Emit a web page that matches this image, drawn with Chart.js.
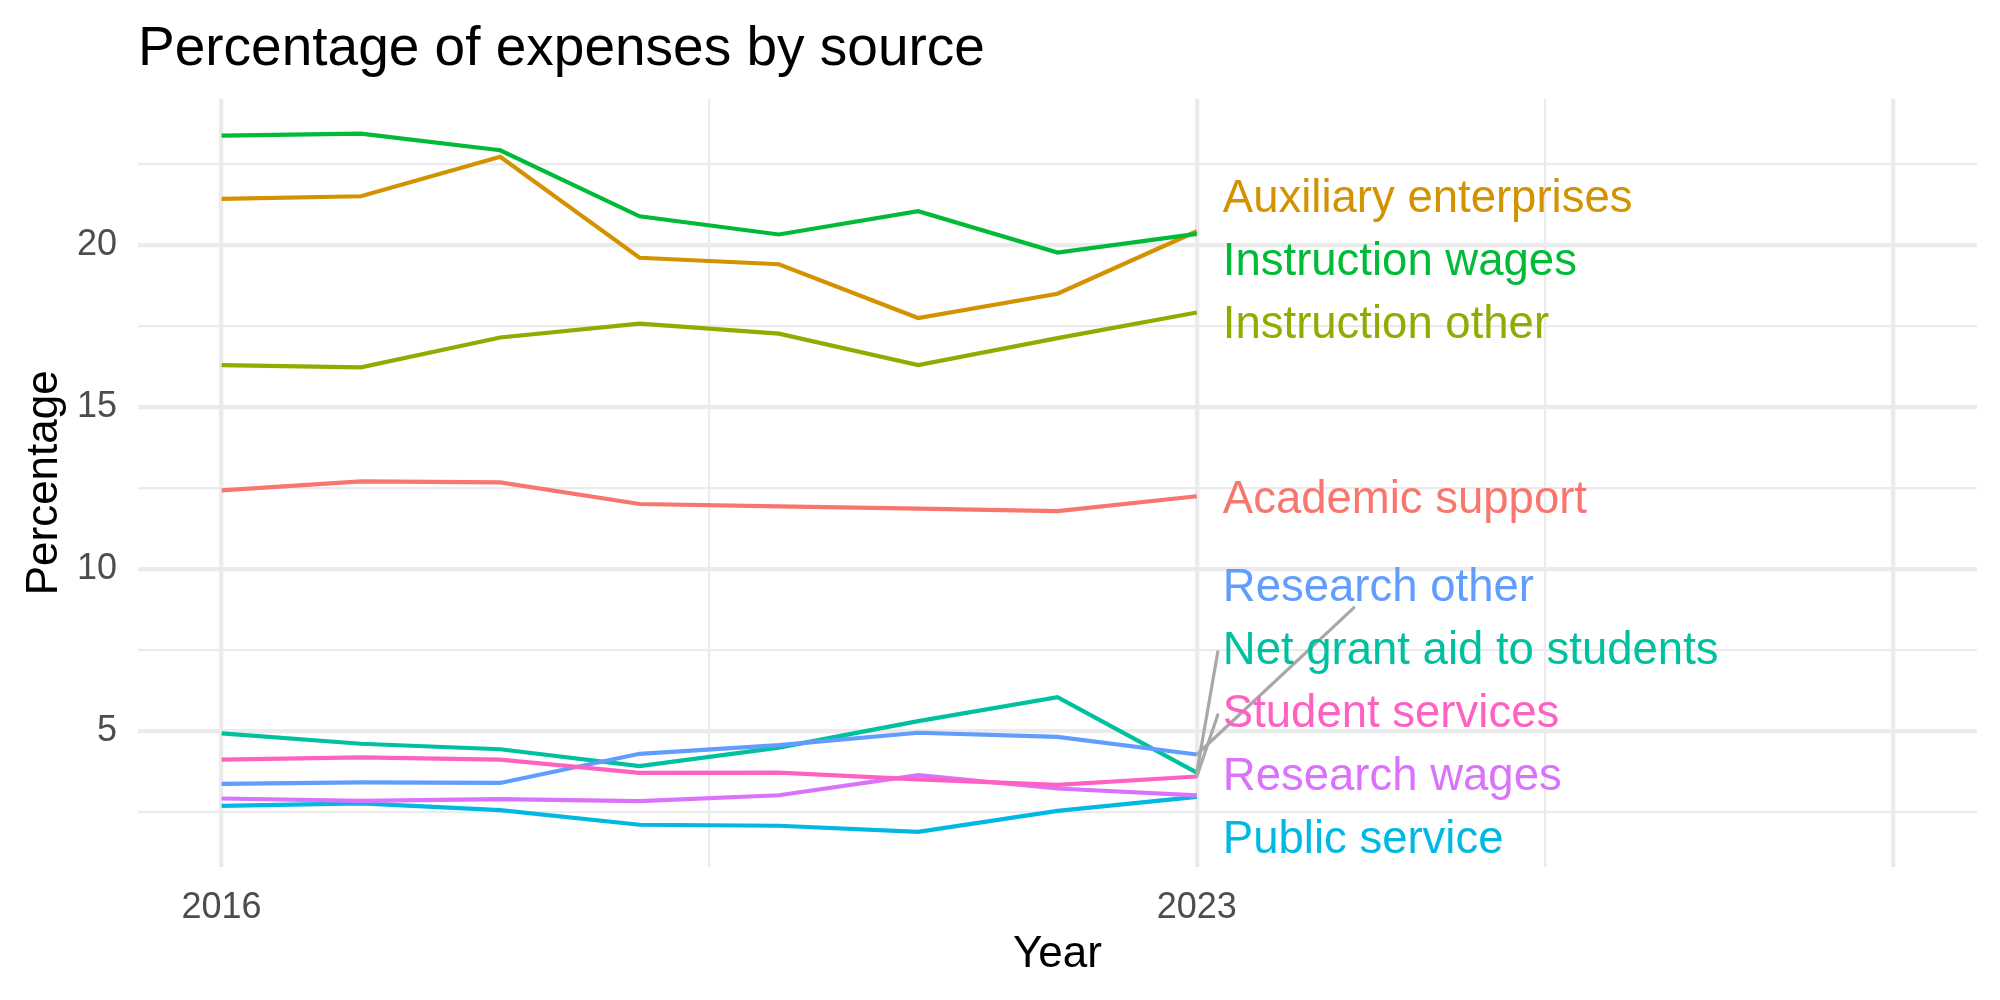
<!DOCTYPE html>
<html>
<head>
<meta charset="utf-8">
<title>Percentage of expenses by source</title>
<script src="https://cdn.jsdelivr.net/npm/chart.js@4.4.1/dist/chart.umd.min.js"></script>
<style>
  html, body { margin: 0; padding: 0; background: #ffffff; }
  canvas { display: block; }
</style>
</head>
<body>
<canvas id="chart" width="2000" height="1000"></canvas>
<script>
// DATA
const years = [2016, 2017, 2018, 2019, 2020, 2021, 2022, 2023]
const sources = [
  "Academic support",
  "Auxiliary enterprises",
  "Instruction other",
  "Instruction wages",
  "Net grant aid to students",
  "Public service",
  "Research other",
  "Research wages",
  "Student services",
]
const academicSupport = [12.43, 12.71, 12.68, 12.01, 11.94, 11.87, 11.79, 12.25]
const auxiliaryEnterprises = [21.43, 21.51, 22.73, 19.61, 19.41, 17.75, 18.5, 20.43]
const instructionOther = [16.3, 16.23, 17.15, 17.58, 17.27, 16.3, 17.13, 17.92]
const instructionWages = [23.38, 23.44, 22.93, 20.89, 20.33, 21.05, 19.77, 20.35]
const netGrantAid = [4.93, 4.61, 4.44, 3.92, 4.49, 5.31, 6.05, 3.72]
const publicService = [2.69, 2.77, 2.56, 2.11, 2.08, 1.89, 2.54, 2.97]
const researchOther = [3.37, 3.42, 3.4, 4.3, 4.57, 4.95, 4.82, 4.28]
const researchWages = [2.92, 2.85, 2.9, 2.84, 3.02, 3.64, 3.23, 3.02]
const studentServices = [4.12, 4.19, 4.12, 3.71, 3.72, 3.51, 3.34, 3.6]
const xBreaks = [2016, 2023, 2028]
const xBreakLabels = ["2016", "2023", ""]
const yBreaks = [5, 10, 15, 20]
const xLimits = [2016, 2028]

const seriesValues = [
  academicSupport, auxiliaryEnterprises, instructionOther, instructionWages,
  netGrantAid, publicService, researchOther, researchWages, studentServices,
]
// ggplot default hue palette, 9 groups
const COLORS = ["#F8766D", "#D39200", "#93AA00", "#00BA38", "#00C19F", "#00B9E3", "#619CFF", "#DB72FB", "#FF61C3"]

const FONT = "'Liberation Sans', Arial, Helvetica, sans-serif"
const GRID = "#EBEBEB"
const MAJOR_W = 4.3
const MINOR_W = 2.2

// ggplot style 5% expansion
function expand(lo, hi) {
  const pad = (hi - lo) * 0.05
  return [lo - pad, hi + pad]
}
function withMinor(breaks, lo, hi) {
  const out = []
  for (let i = 0; i < breaks.length; i++) {
    out.push(breaks[i])
    if (i < breaks.length - 1) out.push((breaks[i] + breaks[i + 1]) / 2)
  }
  const first = breaks[0] - (breaks[1] - breaks[0]) / 2
  const last = breaks[breaks.length - 1] + (breaks[breaks.length - 1] - breaks[breaks.length - 2]) / 2
  if (first >= lo) out.unshift(first)
  if (last <= hi) out.push(last)
  return out.filter((v) => v >= lo && v <= hi)
}

const allValues = seriesValues.flat()
const [yMin, yMax] = expand(Math.min(...allValues), Math.max(...allValues))
const [xMin, xMax] = expand(xLimits[0], xLimits[1])
const yTicks = withMinor(yBreaks, yMin, yMax)
const xTicks = withMinor(xBreaks, xMin, xMax)

const datasets = sources.map((name, i) => ({
  label: name,
  data: years.map((yr, j) => ({ x: yr, y: seriesValues[i][j] })),
  borderColor: COLORS[i],
  backgroundColor: COLORS[i],
  borderWidth: 4.2,
  pointRadius: 0,
  tension: 0,
  order: sources.length - i,
}))

// repel labels vertically so they do not overlap
function spreadLabels(items, gap, top, bottom) {
  const sorted = items.slice().sort((a, b) => a.y0 - b.y0)
  const clusters = []
  const place = (c) => {
    const n = c.items.length
    const half = ((n - 1) * gap) / 2
    let mid = c.sum / n
    mid = Math.min(Math.max(mid, top + half), bottom - half)
    return { start: mid - half, end: mid + half }
  }
  for (const it of sorted) {
    clusters.push({ items: [it], sum: it.y0 })
    while (clusters.length > 1) {
      const b = clusters[clusters.length - 1]
      const a = clusters[clusters.length - 2]
      if (place(b).start - place(a).end >= gap) break
      a.items = a.items.concat(b.items)
      a.sum += b.sum
      clusters.pop()
    }
  }
  clusters.forEach((c) => {
    const p = place(c)
    c.items.forEach((it, k) => { it.y = p.start + k * gap })
  })
  return sorted
}

function clipToBox(p, c, b) {
  const dx = c.x - p.x, dy = c.y - p.y
  let t = 0
  if (dx !== 0) t = Math.max(t, Math.min((b.left - p.x) / dx, (b.right - p.x) / dx))
  if (dy !== 0) t = Math.max(t, Math.min((b.top - p.y) / dy, (b.bottom - p.y) / dy))
  return { x: p.x + dx * t, y: p.y + dy * t }
}

const endLabels = {
  id: "endLabels",
  afterDatasetsDraw(chart) {
    const { ctx, chartArea, scales } = chart
    const gap = 63
    const fontSize = 45.5
    const lastYear = years[years.length - 1]
    const px = scales.x.getPixelForValue(lastYear)
    const textX = px + 26
    ctx.save()
    ctx.font = `${fontSize}px ${FONT}`
    const items = sources.map((name, i) => {
      const v = seriesValues[i][seriesValues[i].length - 1]
      return { name, color: COLORS[i], y0: scales.y.getPixelForValue(v), width: ctx.measureText(name).width }
    })
    spreadLabels(items, gap, chartArea.top + 30, chartArea.bottom - 30)

    // segments
    ctx.strokeStyle = "#A8A8A8"
    ctx.lineWidth = 3.2
    ctx.lineCap = "round"
    items.forEach((it) => {
      const box = { left: textX - 5, right: textX + it.width + 5, top: it.y - 23, bottom: it.y + 23 }
      const p = { x: px, y: it.y0 }
      const dxb = Math.max(box.left - p.x, 0, p.x - box.right)
      const dyb = Math.max(box.top - p.y, 0, p.y - box.bottom)
      if (Math.hypot(dxb, dyb) < 35) return
      let end
      if (Math.abs(it.y - it.y0) > 2.5 * gap) {
        end = clipToBox(p, { x: (box.left + box.right) / 2, y: it.y }, box)
      } else {
        end = { x: box.left, y: it.y + 4 }
      }
      ctx.beginPath()
      ctx.moveTo(p.x, p.y)
      ctx.lineTo(end.x, end.y)
      ctx.stroke()
    })

    // text, baseline placed so the cap height is centred on the label position
    ctx.textAlign = "left"
    ctx.textBaseline = "alphabetic"
    items.forEach((it) => {
      ctx.fillStyle = it.color
      ctx.fillText(it.name, textX, it.y + fontSize * 0.358)
    })
    ctx.restore()
  },
  afterDraw(chart) {
    const { ctx, chartArea } = chart
    ctx.save()
    ctx.font = `55px ${FONT}`
    ctx.fillStyle = "#000000"
    ctx.textAlign = "left"
    ctx.textBaseline = "alphabetic"
    ctx.fillText("Percentage of expenses by source", chartArea.left, 65)
    ctx.restore()
  },
}

const config = {
  type: "line",
  data: { datasets },
  plugins: [endLabels],
  options: {
    responsive: false,
    animation: false,
    devicePixelRatio: 1,
    layout: { padding: { top: 98.8, right: 23, left: 0, bottom: 0 } },
    plugins: {
      legend: { display: false },
      tooltip: { enabled: false },
      title: { display: false },
    },
    scales: {
      x: {
        type: "linear",
        min: xMin,
        max: xMax,
        afterBuildTicks: (scale) => { scale.ticks = xTicks.map((v) => ({ value: v })) },
        afterFit: (scale) => { scale.height = 133.2 },
        border: { display: false },
        grid: {
          drawTicks: false,
          color: GRID,
          lineWidth: (c) => (xBreaks.includes(c.tick.value) ? MAJOR_W : MINOR_W),
        },
        ticks: {
          autoSkip: false,
          maxRotation: 0,
          padding: 20,
          color: "#4D4D4D",
          font: { family: FONT, size: 36 },
          callback: (v) => {
            const k = xBreaks.indexOf(v)
            return k >= 0 ? xBreakLabels[k] : ""
          },
        },
        title: {
          display: true,
          text: "Year",
          color: "#000000",
          font: { family: FONT, size: 44 },
          padding: { top: 0, bottom: 19 },
        },
      },
      y: {
        type: "linear",
        min: yMin,
        max: yMax,
        afterBuildTicks: (scale) => { scale.ticks = yTicks.map((v) => ({ value: v })) },
        afterFit: (scale) => { scale.width = 138 },
        border: { display: false },
        grid: {
          drawTicks: false,
          color: GRID,
          lineWidth: (c) => (yBreaks.includes(c.tick.value) ? MAJOR_W : MINOR_W),
        },
        ticks: {
          autoSkip: false,
          padding: 21,
          color: "#4D4D4D",
          font: { family: FONT, size: 36 },
          callback: (v) => (yBreaks.includes(v) ? String(v) : ""),
        },
        title: {
          display: true,
          text: "Percentage",
          color: "#000000",
          font: { family: FONT, size: 44 },
          padding: { top: 18, bottom: 0 },
        },
      },
    },
  },
}

new Chart(document.getElementById("chart"), config)
</script>
</body>
</html>
